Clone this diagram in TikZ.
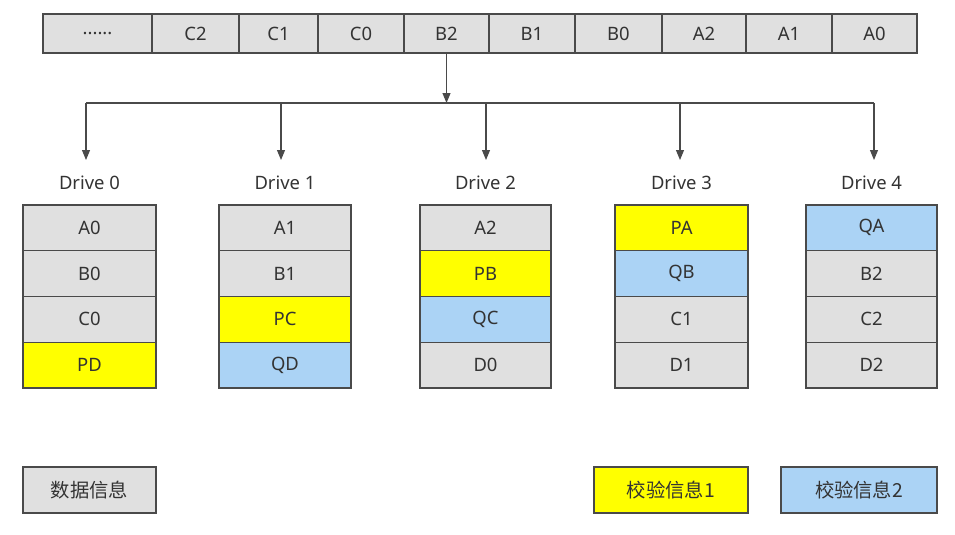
\documentclass[tikz,border=0pt]{standalone}
\usepackage{fontspec}
\setmainfont{Noto Sans}
\newfontfamily\cjk{Noto Sans CJK SC}
\usetikzlibrary{arrows.meta,positioning}
\definecolor{raidink}{HTML}{4A4A4A}
\definecolor{raidtext}{HTML}{333333}
\definecolor{raidgray}{HTML}{E0E0E0}
\definecolor{raidyellow}{HTML}{FFFF00}
\definecolor{raidblue}{HTML}{ABD3F5}
\tikzset{
  cell/.style={draw=raidink, line width=0.6pt, align=center, inner sep=0pt, text=raidtext},
  dcell/.style={cell, fill=raidgray},
  pcell/.style={cell, fill=raidyellow},
  qcell/.style={cell, fill=raidblue},
  arr/.style={-{Triangle[length=2mm,width=1.6mm]}, line width=0.6pt, color=raidink},
  ln/.style={line width=0.6pt, color=raidink},
  lbl/.style={text=raidtext, inner sep=2pt},
  leg/.style={minimum height=46*0.02cm, font=\fontsize{11}{13}\selectfont\cjk},
}
\begin{document}
\begin{tikzpicture}[x=0.02cm, y=-0.02cm, font=\fontsize{10.5}{12.5}\selectfont]
  \useasboundingbox (0,0) rectangle (955,534);
  % stripe of data blocks
  \foreach \nm/\x/\w/\tx in {
    sdots/97.5/109/{......}, sc2/195.5/87/C2, sc1/278.5/79/C1, sc0/361/86/C0,
    sb2/446.5/85/B2, sb1/532/86/B1, sb0/618.5/87/B0,
    sa2/704/84/A2, sa1/789/86/A1, sa0/874.5/85/A0}
  { \node[dcell, minimum width=\w*0.02cm, minimum height=39*0.02cm] (\nm) at (\x,33.5) {\tx}; }
  % distribution bus
  \coordinate (bus) at (446.5,103);
  \coordinate (busl) at (86,103);
  \coordinate (busr) at (874,103);
  \draw[arr] (sb2.south) -- (bus);
  \draw[ln] (busl) -- (busr);
  % drives
  \foreach \d/\x/\ax/\w/\cells in {
    0/89.5/86/133/{A0/dcell,B0/dcell,C0/dcell,PD/pcell},
    1/285/281/132/{A1/dcell,B1/dcell,PC/pcell,QD/qcell},
    2/485.5/486/131/{A2/dcell,PB/pcell,QC/qcell,D0/dcell},
    3/681.5/680/133/{PA/pcell,QB/qcell,C1/dcell,D1/dcell},
    4/871.5/874/131/{QA/qcell,B2/dcell,C2/dcell,D2/dcell}}
  {
    \node[lbl] (drv\d) at (\x,183) {Drive \d};
    \coordinate (tap\d) at (\ax,103);
    \draw[arr] (tap\d) -- (\ax,160);
    \foreach \tx/\st [count=\i] in \cells
      { \node[\st, minimum width=\w*0.02cm, minimum height=45.75*0.02cm] (d\d r\i) at (\x,{182.1+45.75*\i}) {\tx}; }
  }
  % legend
  \node[dcell, leg, minimum width=133*0.02cm] (legdata) at (89.5,490) {数据信息};
  \node[pcell, leg, minimum width=154*0.02cm] (legp) at (671,490) {校验信息1};
  \node[qcell, leg, minimum width=156*0.02cm] (legq) at (859,490) {校验信息2};
\end{tikzpicture}
\end{document}
